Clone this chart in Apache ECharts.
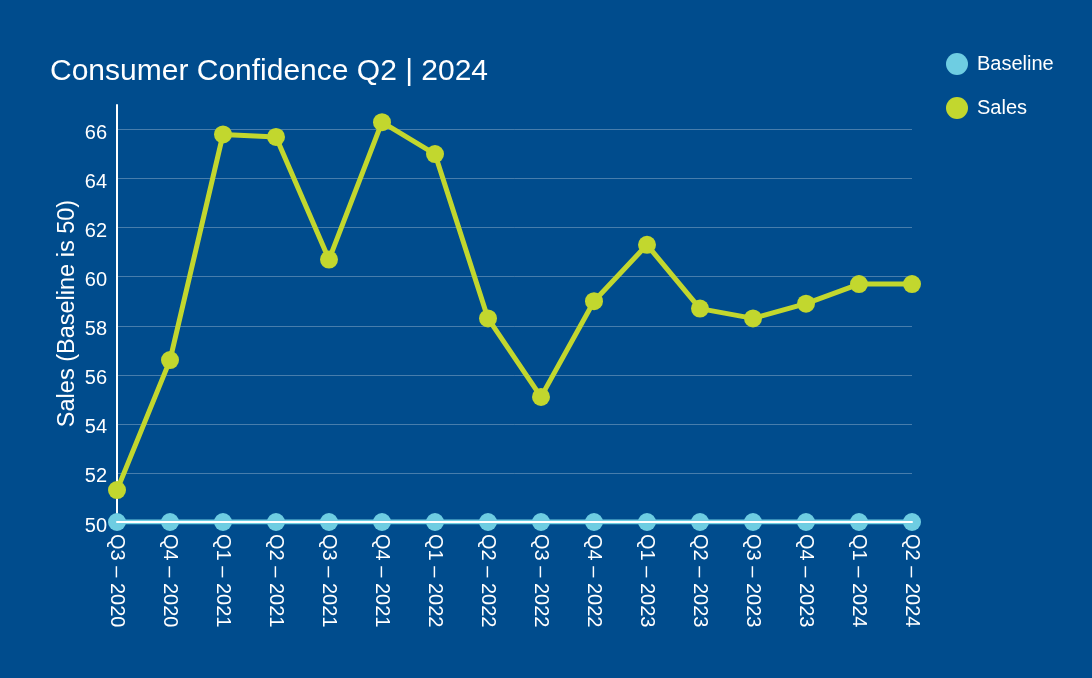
<!DOCTYPE html>
<html>
<head>
<meta charset="utf-8">
<script src="https://cdn.jsdelivr.net/npm/echarts@6/dist/echarts.min.js"></script>
<style>
  html, body { margin: 0; padding: 0; background: #004c8d; }
  #main { width: 1092px; height: 678px; }
</style>
</head>
<body>
<div id="main"></div>
<script>
// 季度标签
var quarters = ['Q3 – 2020', 'Q4 – 2020', 'Q1 – 2021', 'Q2 – 2021', 'Q3 – 2021', 'Q4 – 2021',
    'Q1 – 2022', 'Q2 – 2022', 'Q3 – 2022', 'Q4 – 2022', 'Q1 – 2023', 'Q2 – 2023',
    'Q3 – 2023', 'Q4 – 2023', 'Q1 – 2024', 'Q2 – 2024'];
// 基准线
var baseline = [50, 50, 50, 50, 50, 50, 50, 50, 50, 50, 50, 50, 50, 50, 50, 50];
// 销售指数
var sales = [51.3, 56.6, 65.8, 65.7, 60.7, 66.3, 65.0, 58.3, 55.1, 59.0, 61.3, 58.7, 58.3, 58.9, 59.7, 59.7];
// y轴刻度
var yMin = 50, yMax = 67, yStep = 2;

var font = '"Liberation Sans", Arial, sans-serif';
var myChart = echarts.init(document.getElementById('main'));
var option = {
    backgroundColor: '#004c8d',
    textStyle: { fontFamily: font },
    title: {
        text: 'Consumer Confidence Q2 | 2024',
        left: 45,
        top: 52,
        textStyle: { color: '#ffffff', fontSize: 30, fontWeight: 'normal', fontFamily: font }
    },
    legend: {
        orient: 'vertical',
        left: 941,
        top: 48,
        icon: 'circle',
        itemWidth: 22,
        itemHeight: 22,
        itemGap: 22,
        data: ['Baseline', 'Sales'],
        textStyle: { color: '#ffffff', fontSize: 20, fontFamily: font, padding: [0, 0, 0, 4] }
    },
    grid: {
        left: 117,
        right: 180,
        top: 105,
        bottom: 156,
        containLabel: false
    },
    xAxis: {
        type: 'category',
        boundaryGap: false,
        data: quarters,
        axisLine: { show: true, lineStyle: { color: '#ffffff', width: 2 } },
        axisTick: { show: false },
        axisLabel: {
            rotate: -90,
            margin: 12,
            interval: 0,
            color: '#ffffff',
            fontSize: 20,
            fontFamily: font
        },
        splitLine: { show: false },
        z: 3
    },
    yAxis: {
        type: 'value',
        min: yMin,
        max: yMax,
        interval: yStep,
        name: 'Sales (Baseline is 50)',
        nameLocation: 'middle',
        nameGap: 37,
        nameMoveOverlap: false,
        nameTextStyle: { color: '#ffffff', fontSize: 23.5, fontFamily: font },
        axisLine: { show: true, lineStyle: { color: '#ffffff', width: 2 } },
        axisTick: { show: false },
        axisLabel: {
            color: '#ffffff',
            fontSize: 20,
            margin: 10,
            fontFamily: font,
            verticalAlign: 'top',
            lineHeight: 8,
            showMaxLabel: false
        },
        splitLine: {
            show: true,
            showMinLine: false,
            showMaxLine: false,
            lineStyle: { color: 'rgba(255,255,255,0.28)', width: 1 }
        }
    },
    series: [{
        name: 'Baseline',
        type: 'line',
        data: baseline,
        symbol: 'circle',
        symbolSize: 18,
        color: '#6ecde2',
        lineStyle: { color: '#6ecde2', width: 5 },
        itemStyle: { color: '#6ecde2' },
        z: 2
    }, {
        name: 'Sales',
        type: 'line',
        data: sales,
        symbol: 'circle',
        symbolSize: 18,
        color: '#c2d72e',
        lineStyle: { color: '#c2d72e', width: 5 },
        itemStyle: { color: '#c2d72e' },
        z: 4
    }],
    animation: false
};
myChart.setOption(option);
</script>
</body>
</html>
